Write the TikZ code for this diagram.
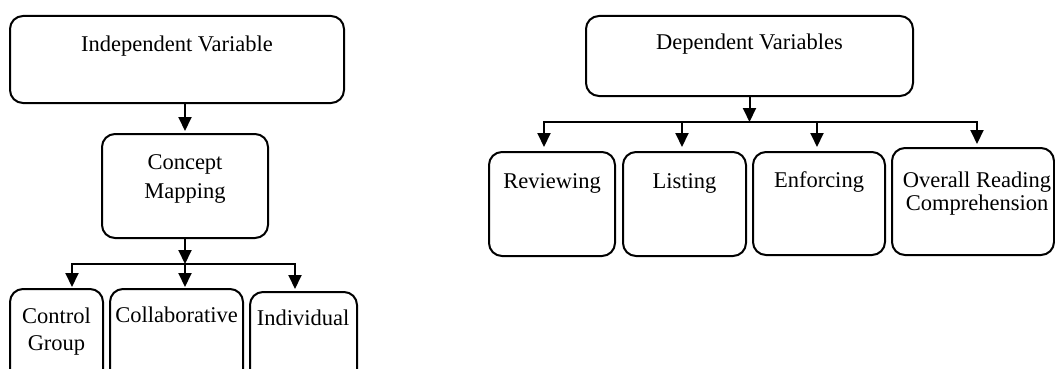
\documentclass[tikz,border=0pt]{standalone}
\usepackage{fontspec}
\setmainfont{Liberation Serif}
\usetikzlibrary{arrows.meta}
\begin{document}
\begin{tikzpicture}[x=1pt,y=-1pt,
  box/.style={draw, line width=2pt, rounded corners=13pt, inner sep=0pt},
  lbl/.style={font=\fontsize{22.5}{26}\selectfont, anchor=base, inner sep=0pt},
  link/.style={line width=2pt},
  arr/.style={line width=2pt, -{Triangle[length=14pt,width=13pt]}},
  twoarr/.style={line width=2pt, {Triangle[length=14pt,width=13pt]}-{Triangle[length=14pt,width=13pt]}},
]
\useasboundingbox (0,0) rectangle (1055,369);
\clip (0,0) rectangle (1055,369);

% ---- independent variable branch ----
\node[box, minimum width=334pt, minimum height=87pt] (iv) at (177,59.5) {};
\node[lbl] (ivt) at (177,52) {Independent Variable};

\node[box, minimum width=166pt, minimum height=104pt] (cm) at (185,186) {};
\node[lbl] (cmt1) at (185,169) {Concept};
\node[lbl] (cmt2) at (185,198) {Mapping};

\node[box, minimum width=93pt, minimum height=104pt] (cg) at (56.5,341) {};
\node[lbl] (cgt1) at (56.5,323) {Control};
\node[lbl] (cgt2) at (56.5,350) {Group};

\node[box, minimum width=133pt, minimum height=104pt] (co) at (176.5,341) {};
\node[lbl] (cot) at (176.5,322) {Collaborative};

\node[box, minimum width=107pt, minimum height=104pt] (in) at (303.5,344) {};
\node[lbl] (int) at (303,325) {Individual};

\coordinate (lbar) at (72,264);
\coordinate (rbar) at (295,264);

\draw[arr, shorten >=2pt] (cm.north |- iv.south) -- (cm.north);
\draw[arr] (cm.south) -- (cm.south |- lbar);
\draw[twoarr, shorten <=1pt, shorten >=2pt] (lbar |- cg.north) -- (lbar) -- (rbar) -- (rbar |- in.north);
\draw[arr, shorten >=1pt] (cm.south |- lbar) -- (cm.south |- co.north);

% ---- dependent variables branch ----
\node[box, minimum width=327pt, minimum height=80pt] (dv) at (749.5,56) {};
\node[lbl] (dvt) at (749.5,50) {Dependent Variables};

\node[box, minimum width=126pt, minimum height=104pt] (rv) at (552,204) {};
\node[lbl] (rvt) at (552,188) {Reviewing};

\node[box, minimum width=123pt, minimum height=104pt] (ls) at (684.5,204) {};
\node[lbl] (lst) at (684.5,188) {Listing};

\node[box, minimum width=132pt, minimum height=103pt] (en) at (819,203.5) {};
\node[lbl] (ent) at (819,187) {Enforcing};

\node[box, minimum width=162pt, minimum height=107pt] (ov) at (973,201.5) {};
\node[lbl] (ovt1) at (977,187) {Overall Reading};
\node[lbl] (ovt2) at (977,210) {Comprehension};

\coordinate (dl) at (544,122);
\coordinate (dr) at (977,122);
\coordinate (d2) at (682,122);
\coordinate (d3) at (817,122);

\draw[arr] (dv.south) -- (dv.south |- dl);
\draw[twoarr, shorten <=4pt, shorten >=3pt] (dl |- rv.north) -- (dl) -- (dr) -- (dr |- ov.north);
\draw[arr, shorten >=4pt] (d2) -- (d2 |- ls.north);
\draw[arr, shorten >=4pt] (d3) -- (d3 |- en.north);
\end{tikzpicture}
\end{document}
